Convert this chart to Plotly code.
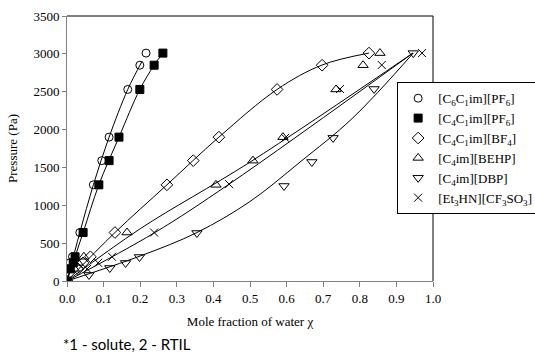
import plotly.graph_objects as go

# ---- data ----
names = ["[C<sub>6</sub>C<sub>1</sub>im][PF<sub>6</sub>]",
         "[C<sub>4</sub>C<sub>1</sub>im][PF<sub>6</sub>]",
         "[C<sub>4</sub>C<sub>1</sub>im][BF<sub>4</sub>]",
         "[C<sub>4</sub>im][BEHP]",
         "[C<sub>4</sub>im][DBP]",
         "[Et<sub>3</sub>HN][CF<sub>3</sub>SO<sub>3</sub>]"]

p_vals = [0, 160, 240, 320, 640, 1270, 1590, 1900, 2530, 2850, 3010]

x_c6c1_pf6 = [0, 0.004, 0.008, 0.015, 0.035, 0.072, 0.095, 0.115, 0.166, 0.199, 0.216]
x_c4c1_pf6 = [0, 0.009, 0.017, 0.022, 0.044, 0.087, 0.115, 0.142, 0.199, 0.238, 0.262]
x_c4c1_bf4 = [0, 0.030, 0.044, 0.064, 0.131, 0.273, 0.345, 0.415, 0.574, 0.697, 0.825]
x_behp = [0, 0.020, 0.030, 0.046, 0.164, 0.407, 0.508, 0.590, 0.735, 0.809, 0.855]
x_dbp = [0, 0.060, 0.117, 0.160, 0.198, 0.355, 0.593, 0.669, 0.727, 0.839, 0.946]
p_dbp = [0, 80, 172, 238, 317, 634, 1255, 1572, 1890, 2536, 3010]
x_et3hn = [0, 0.055, 0.085, 0.123, 0.238, 0.443, 0.596, 0.746, 0.860, 0.970]
p_et3hn = [0, 160, 240, 320, 640, 1280, 1890, 2536, 2853, 3010]

# fitted curves (knots)
fit_c6c1_pf6_x = [0, 0.035, 0.072, 0.115, 0.166, 0.205]
fit_c6c1_pf6_p = [0, 640, 1270, 1900, 2530, 2900]
fit_c4c1_pf6_x = [0, 0.044, 0.087, 0.142, 0.199, 0.238, 0.262]
fit_c4c1_pf6_p = [0, 640, 1270, 1900, 2530, 2850, 3010]
fit_bf4_x = [0, 0.131, 0.273, 0.415, 0.574, 0.697, 0.825]
fit_bf4_p = [0, 640, 1270, 1900, 2530, 2853, 3010]
fit_behp_x = [0, 0.2, 0.5, 0.945]
fit_behp_p = [0, 690, 1570, 3010]
fit_et3hn_x = [0, 0.238, 0.443, 0.945]
fit_et3hn_p = [0, 634, 1280, 3010]
fit_dbp_x = [0, 0.2, 0.355, 0.5, 0.637, 0.78, 0.946]
fit_dbp_p = [0, 330, 640, 1050, 1572, 2150, 3010]

xticks = [0, 0.1, 0.2, 0.3, 0.4, 0.5, 0.6, 0.7, 0.8, 0.9, 1.0]
yticks = [0, 500, 1000, 1500, 2000, 2500, 3000, 3500]

fig = go.Figure()

fits = [(fit_c6c1_pf6_x, fit_c6c1_pf6_p), (fit_c4c1_pf6_x, fit_c4c1_pf6_p),
        (fit_bf4_x, fit_bf4_p), (fit_behp_x, fit_behp_p),
        (fit_dbp_x, fit_dbp_p), (fit_et3hn_x, fit_et3hn_p)]
for fx, fp in fits:
    fig.add_trace(go.Scatter(x=fx, y=fp, mode="lines", showlegend=False,
                             line=dict(color="black", width=1, shape="spline"),
                             hoverinfo="skip"))

series = [
    (x_c6c1_pf6, p_vals, "circle-open", 8),
    (x_c4c1_pf6, p_vals, "square", 8),
    (x_c4c1_bf4, p_vals, "diamond-open", 9),
    (x_behp, p_vals, "triangle-up-open", 9),
    (x_dbp, p_dbp, "triangle-down-open", 9),
    (x_et3hn, p_et3hn, "x-thin-open", 8),
]
for i, (sx, sp, sym, sz) in enumerate(series):
    fig.add_trace(go.Scatter(x=sx, y=sp, mode="markers", name=names[i],
                             legendgroup=str(i),
                             marker=dict(symbol=sym, size=sz, color="black",
                                         line=dict(color="black", width=1))))

serif = "Liberation Serif"
fig.update_layout(
    width=535, height=354,
    margin=dict(l=67, r=102, t=16, b=73, autoexpand=False),
    paper_bgcolor="white", plot_bgcolor="white",
    font=dict(family=serif, size=13, color="black"),
    showlegend=True,
    legend=dict(x=0.902, y=0.75, xanchor="left", yanchor="top",
                bordercolor="black", borderwidth=1, bgcolor="white",
                font=dict(family=serif, size=13), tracegroupgap=0,
                traceorder="grouped", itemwidth=30),
    xaxis=dict(range=[0, 1], tickvals=xticks, tickformat=".1f",
               showgrid=False, zeroline=False, showline=True,
               linecolor="#808080", linewidth=1, ticks="outside",
               ticklen=5, tickcolor="#808080",
               title=dict(text="Mole fraction of water χ", standoff=12,
                          font=dict(family=serif, size=13)),
               tickfont=dict(family=serif, size=13)),
    yaxis=dict(range=[0, 3500], tickvals=yticks,
               showgrid=False, zeroline=False, showline=True,
               linecolor="#808080", linewidth=1, ticks="outside",
               ticklen=4, tickcolor="#808080",
               title=dict(text="Pressure (Pa)", standoff=12,
                          font=dict(family=serif, size=13)),
               tickfont=dict(family=serif, size=13)),
)
# top and right frame lines (black)
fig.add_shape(type="line", xref="paper", yref="paper", x0=0, x1=1, y0=1, y1=1,
              line=dict(color="black", width=1))
fig.add_shape(type="line", xref="paper", yref="paper", x0=1, x1=1, y0=0, y1=1,
              line=dict(color="black", width=1))
fig.add_annotation(text="*1 - solute, 2 - RTIL", xref="paper", yref="paper",
                   x=-0.016, y=-0.195, xanchor="left", yanchor="top",
                   showarrow=False, font=dict(family="Lato", size=15, color="black"))

fig.write_html("out.html")
